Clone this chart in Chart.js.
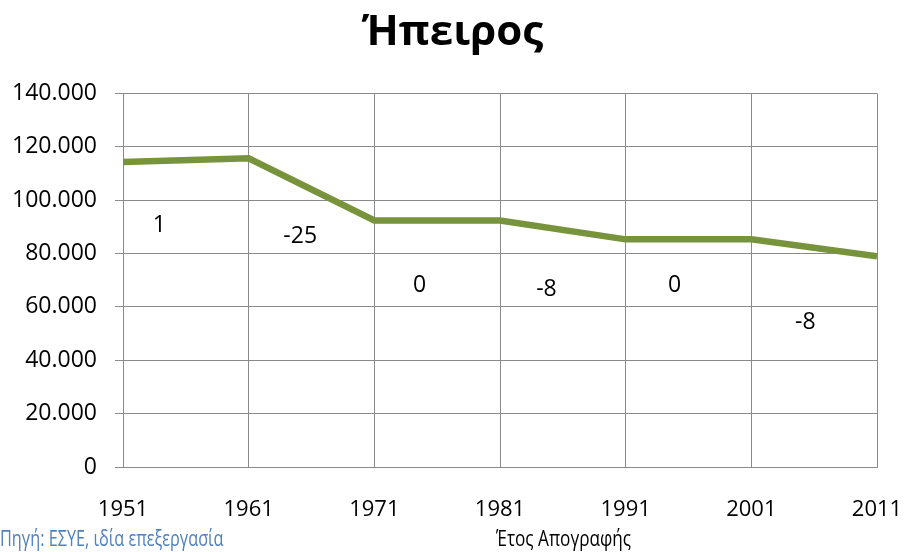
<!DOCTYPE html>
<html>
<head>
<meta charset="utf-8">
<script src="https://cdn.jsdelivr.net/npm/chart.js@4/dist/chart.umd.min.js"></script>
<style>
  html, body { margin: 0; padding: 0; background: #fff; }
  #wrap { width: 905px; height: 552px; position: relative; }
</style>
</head>
<body>
<div id="wrap"><canvas id="myLineChart"></canvas></div>
<script>
// census years and population of Epirus
const years = [1951, 1961, 1971, 1981, 1991, 2001, 2011];
const population = [114300, 115700, 92400, 92400, 85300, 85300, 79000];
const yTicks = [0, 20000, 40000, 60000, 80000, 100000, 120000, 140000];

// change labels written inside the plot (value, year, population where the text sits)
const changeLabels = ['1', '-25', '0', '-8', '0', '-8'];
const changeYears = [1953.9, 1965.1, 1974.6, 1984.7, 1994.9, 2005.3];
const changeLevels = [90600, 86500, 68100, 66600, 68100, 54300];

const FONT = "'Open Sans', 'Noto Sans', sans-serif";

function thousands(v) {
    return String(v).replace(/\B(?=(\d{3})+(?!\d))/g, '.');
}

// narrow text, a bit like Calibri
function narrowText(ctx, text, x, y, squeeze) {
    ctx.save();
    ctx.translate(x, y);
    ctx.scale(squeeze, 1);
    ctx.fillText(text, 0, 0);
    ctx.restore();
}

const textPlugin = {
    id: 'textPlugin',
    afterDatasetsDraw(chart) {
        const ctx = chart.ctx;
        const x = chart.scales.x;
        const y = chart.scales.y;
        ctx.save();
        ctx.font = '23px ' + FONT;
        ctx.fillStyle = '#000';
        ctx.textAlign = 'center';
        ctx.textBaseline = 'middle';
        changeLabels.forEach(function (t, i) {
            ctx.fillText(t, x.getPixelForValue(changeYears[i]), y.getPixelForValue(changeLevels[i]));
        });

        // footer line: source and axis title
        ctx.textAlign = 'left';
        ctx.textBaseline = 'alphabetic';
        ctx.fillStyle = '#4F81BD';
        ctx.font = '21px ' + FONT;
        narrowText(ctx, 'Πηγή: ΕΣΥΕ, ιδία επεξεργασία', 0, 546, 0.775);
        ctx.fillStyle = '#000';
        ctx.font = '22px ' + FONT;
        narrowText(ctx, 'Έτος Απογραφής', 496, 546, 0.78);
        ctx.restore();
    }
};

let element = document.getElementById('myLineChart');
new Chart(element.getContext('2d'), {
    type: 'line',
    data: {
        datasets: [{
            label: 'Ήπειρος',
            data: years.map(function (yr, i) { return {x: yr, y: population[i]}; }),
            borderColor: '#77933C',
            borderWidth: 6.5,
            pointRadius: 0,
            tension: 0,
            fill: false
        }]
    },
    options: {
        responsive: true,
        maintainAspectRatio: false,
        animation: false,
        layout: {padding: {left: 0, right: 0, top: 0, bottom: 0}},
        plugins: {
            legend: {display: false},
            tooltip: {enabled: false},
            title: {
                display: true,
                text: 'Ήπειρος',
                color: '#000',
                font: {family: FONT, size: 42, weight: 'bold', lineHeight: 1.2},
                padding: {top: 8, bottom: 35}
            }
        },
        scales: {
            x: {
                type: 'linear',
                min: 1951,
                max: 2011,
                afterBuildTicks: function (scale) {
                    scale.ticks = years.map(function (v) { return {value: v}; });
                },
                afterFit: function (scale) {
                    scale.height = 85;
                    scale.paddingLeft = 0;
                    scale.paddingRight = 28;
                },
                grid: {color: '#8A8A8A', lineWidth: 1, drawTicks: false},
                border: {color: '#8A8A8A', width: 1},
                ticks: {
                    color: '#000',
                    padding: 30,
                    maxRotation: 0,
                    autoSkip: false,
                    font: {family: FONT, size: 22},
                    callback: function (v) { return String(v); }
                }
            },
            y: {
                min: 0,
                max: 140000,
                afterBuildTicks: function (scale) {
                    scale.ticks = yTicks.map(function (v) { return {value: v}; });
                },
                afterFit: function (scale) { scale.width = 123; },
                grid: {color: '#8A8A8A', lineWidth: 1, tickLength: 8},
                border: {color: '#8A8A8A', width: 1},
                ticks: {
                    color: '#000',
                    padding: 18,
                    font: {family: FONT, size: 23},
                    callback: function (v) { return thousands(v); }
                }
            }
        }
    },
    plugins: [textPlugin]
});
</script>
</body>
</html>
